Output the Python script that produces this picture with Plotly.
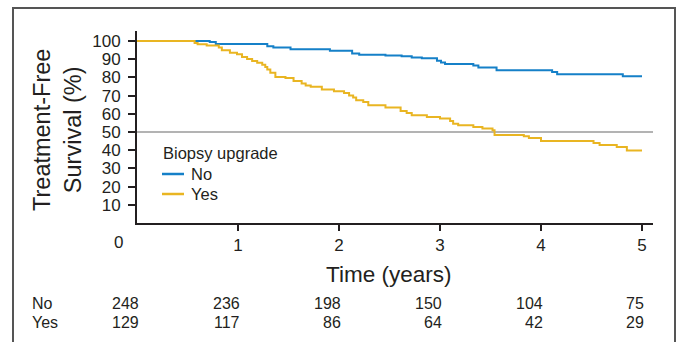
import plotly.graph_objects as go

# ---- data ----
no_t = [0, 0.72, 0.78, 1.29, 1.35, 1.52, 1.91, 2.13, 2.20, 2.46, 2.62, 2.72, 2.82,
        2.97, 3.01, 3.05, 3.33, 3.38, 3.56, 4.11, 4.16, 4.81, 5.0]
no_s = [100, 99.5, 98.3, 97.1, 96.4, 95.4, 94.6, 93.1, 92.5, 92.1, 91.6, 90.9, 90.5,
        89.2, 88.2, 87.4, 86.6, 85.4, 83.9, 83.0, 81.7, 80.6, 80.6]

yes_t = [0, 0.57, 0.60, 0.69, 0.81, 0.84, 0.92, 0.99, 1.04, 1.09, 1.14, 1.19, 1.24,
         1.27, 1.29, 1.32, 1.37, 1.47, 1.55, 1.63, 1.67, 1.72, 1.83, 1.95, 2.05,
         2.10, 2.14, 2.17, 2.24, 2.29, 2.46, 2.61, 2.67, 2.72, 2.87, 3.00, 3.10,
         3.13, 3.18, 3.33, 3.42, 3.52, 3.54, 3.83, 3.88, 4.00, 4.52, 4.58, 4.75,
         4.85, 5.0]
yes_s = [100, 98.9, 98.2, 97.5, 96.4, 94.9, 93.6, 92.7, 91.2, 90.1, 89.0, 88.1, 87.0,
         85.7, 84.3, 82.6, 80.2, 79.7, 78.0, 76.6, 75.5, 74.9, 73.3, 72.4, 71.4,
         70.0, 68.9, 67.4, 66.5, 64.7, 63.4, 61.5, 60.4, 59.2, 58.2, 57.4, 56.0,
         54.6, 53.7, 52.7, 51.9, 50.9, 48.4, 47.6, 46.7, 45.1, 44.0, 42.9, 41.8,
         39.9, 39.9]

risk_times = [0, 1, 2, 3, 4, 5]
risk_no = [248, 236, 198, 150, 104, 75]
risk_yes = [129, 117, 86, 64, 42, 29]

x_ticks = [1, 2, 3, 4, 5]
y_ticks = [10, 20, 30, 40, 50, 60, 70, 80, 90, 100]

BLUE = "#1580c8"
GOLD = "#e9b522"
INK = "#231f20"
FONT = "Liberation Sans, Arial, sans-serif"

fig = go.Figure()
fig.add_trace(go.Scatter(x=no_t, y=no_s, mode="lines", line=dict(color=BLUE, width=2, shape="hv"),
                         name="No", showlegend=False))
fig.add_trace(go.Scatter(x=yes_t, y=yes_s, mode="lines", line=dict(color=GOLD, width=2, shape="hv"),
                         name="Yes", showlegend=False))

W, H = 677, 342
L, R, T, B = 137, 24, 31, 119
pw, ph = W - L - R, H - T - B

def px(x):
    return (x - L) / pw

def py(y):
    return (H - B - y) / ph

shapes = []
# reference line at 50%
shapes.append(dict(type="line", xref="paper", yref="y", x0=0, x1=1, y0=50, y1=50,
                   line=dict(color="#9a9a9a", width=1.5), layer="below"))
# frame
shapes.append(dict(type="rect", xref="paper", yref="paper", x0=px(13), x1=px(675), y0=py(346), y1=py(8),
                   line=dict(color="#555555", width=2)))
# legend samples
shapes.append(dict(type="line", xref="paper", yref="paper", x0=px(162), x1=px(184), y0=py(174), y1=py(174),
                   line=dict(color=BLUE, width=2.5)))
shapes.append(dict(type="line", xref="paper", yref="paper", x0=px(162), x1=px(184), y0=py(194), y1=py(194),
                   line=dict(color=GOLD, width=2.5)))

ann = []
ann.append(dict(text="Biopsy upgrade", xref="paper", yref="paper", x=px(161), y=py(153), xanchor="left",
                yanchor="middle", showarrow=False, font=dict(size=16.5, color=INK, family=FONT)))
ann.append(dict(text="No", xref="paper", yref="paper", x=px(189), y=py(174), xanchor="left",
                yanchor="middle", showarrow=False, font=dict(size=16.5, color=INK, family=FONT)))
ann.append(dict(text="Yes", xref="paper", yref="paper", x=px(189), y=py(194), xanchor="left",
                yanchor="middle", showarrow=False, font=dict(size=16.5, color=INK, family=FONT)))
# origin label
ann.append(dict(text="0", xref="paper", yref="paper", x=px(118), y=py(242), xanchor="center",
                yanchor="middle", showarrow=False, font=dict(size=17, color=INK, family=FONT)))
# axis titles
ann.append(dict(text="Time (years)", xref="paper", yref="paper", x=px(388), y=py(274), xanchor="center",
                yanchor="middle", showarrow=False,
                font=dict(size=22.5, color=INK, family="Liberation Sans Narrow, Arial Narrow, sans-serif")))
ann.append(dict(text="Treatment-Free<br>Survival (%)", xref="paper", yref="paper", x=px(57), y=py(130),
                xanchor="center", yanchor="middle", textangle=-90, showarrow=False,
                font=dict(size=23.5, color=INK, family=FONT)))
# risk table
for lab, row, yy in (("No", risk_no, 303), ("Yes", risk_yes, 322)):
    ann.append(dict(text=lab, xref="paper", yref="paper", x=px(30), y=py(yy), xanchor="left",
                    yanchor="middle", showarrow=False, font=dict(size=16, color=INK, family=FONT)))
    for t, n in zip(risk_times, row):
        ann.append(dict(text=str(n), xref="x", yref="paper", x=t, y=py(yy), xanchor="right", xshift=4,
                        yanchor="middle", showarrow=False, font=dict(size=16, color=INK, family=FONT)))

fig.update_layout(
    width=W, height=H,
    margin=dict(l=L, r=R, t=T, b=B, pad=0),
    paper_bgcolor="white", plot_bgcolor="white",
    shapes=shapes, annotations=ann,
    font=dict(family=FONT, color=INK, size=17),
    xaxis=dict(range=[0, pw / 101.0], tickvals=x_ticks, ticks="outside", ticklen=6, tickwidth=1.5,
               tickcolor=INK, showline=True, linecolor=INK, linewidth=2, showgrid=False, zeroline=False,
               tickfont=dict(size=17, color=INK, family=FONT), fixedrange=True),
    yaxis=dict(range=[0, ph / 1.82], tickvals=y_ticks, ticks="outside", ticklen=7, tickwidth=1.5,
               tickcolor=INK, showline=True, linecolor=INK, linewidth=2, showgrid=False, zeroline=False,
               ticklabelstandoff=4,
               tickfont=dict(size=17, color=INK, family=FONT), fixedrange=True),
)

fig.write_html("out.html", config={"displayModeBar": False},
               post_script="document.body.style.margin='0';document.body.style.overflow='hidden';")
